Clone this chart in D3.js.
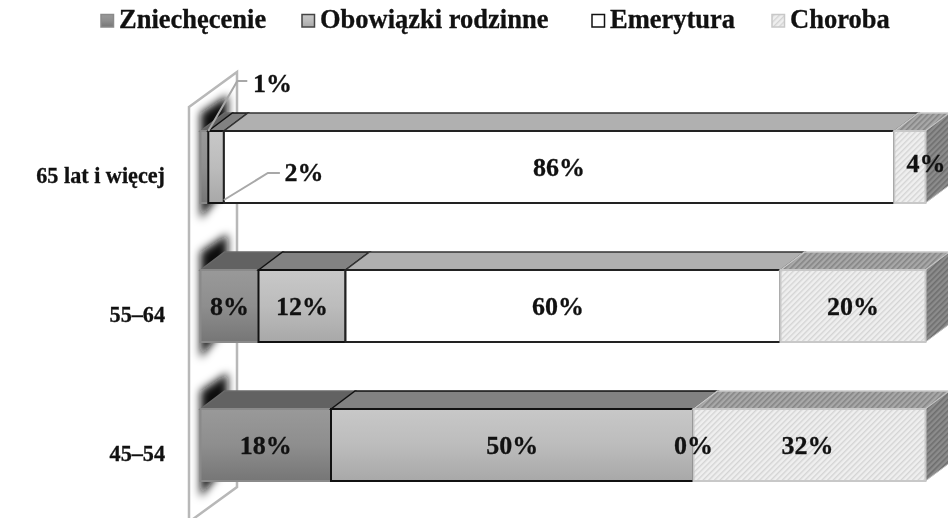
<!DOCTYPE html>
<html>
<head>
<meta charset="utf-8">
<script src="https://cdn.jsdelivr.net/npm/d3@7"></script>
<style>
    html, body { margin: 0; padding: 0; background: #fff; }
    svg { display: block; filter: blur(0.45px); }
    text { font-family: "Liberation Serif", serif; font-weight: bold; fill: #111; stroke: #111; stroke-width: 0.3px; }
</style>
</head>
<body>
<div id="chart"></div>
<script>
var categories = ["65 lat i więcej", "55–64", "45–54"];
var seriesNames = ["Zniechęcenie", "Obowiązki rodzinne", "Emerytura", "Choroba"];
var zniechecenie = [1, 8, 18];
var obowiazki = [2, 12, 50];
var emerytura = [86, 60, 0];
var choroba = [4, 20, 32];

(function () {
    var width = 948,
        height = 518,
        depthX = 24,
        depthY = 18;

    var svg = d3.select("#chart")
        .append("svg")
        .attr("width", width)
        .attr("height", height);

    var rows = categories.map(function (c, i) {
        var row = { category: c };
        row[seriesNames[0]] = zniechecenie[i];
        row[seriesNames[1]] = obowiazki[i];
        row[seriesNames[2]] = emerytura[i];
        row[seriesNames[3]] = choroba[i];
        return row;
    });

    // the first row only adds up to 93, the original bars are 100% stacked anyway
    var stacked = d3.stack()
        .keys(seriesNames)
        .offset(d3.stackOffsetExpand)(rows);

    var x = d3.scaleLinear().domain([0, 1]).range([200.5, 925.5]);
    var y = d3.scaleBand().domain(categories).range([131, 481]).paddingInner(0.482);

    var styles = [
        { front: "url(#grad-dark)", top: "#626262", side: "#626262", stroke: "#8a8a8a", topStroke: "#6a6a6a" },
        { front: "url(#grad-mid)", top: "#828282", side: "#828282", stroke: "#111", topStroke: "#111" },
        { front: "#fff", top: "#b0b0b0", side: "#b0b0b0", stroke: "#222", topStroke: "#333" },
        { front: "url(#hatch-light)", top: "url(#hatch-dark)", side: "url(#hatch-side)", stroke: "#c8c8c8", topStroke: "#c8c8c8" }
    ];

    var defs = svg.append("defs");

    function gradient(id, stops) {
        var g = defs.append("linearGradient")
            .attr("id", id)
            .attr("x1", 0).attr("y1", 0)
            .attr("x2", 0).attr("y2", 1);
        stops.forEach(function (s, i) {
            g.append("stop")
                .attr("offset", i / (stops.length - 1))
                .attr("stop-color", s);
        });
    }
    gradient("grad-dark", ["#999", "#8e8e8e", "#767676"]);
    gradient("grad-mid", ["#c8c8c8", "#bcbcbc", "#a8a8a8"]);

    function hatch(id, size, bg, line, w) {
        var p = defs.append("pattern")
            .attr("id", id)
            .attr("width", size)
            .attr("height", size)
            .attr("patternUnits", "userSpaceOnUse")
            .attr("patternTransform", "rotate(45)");
        p.append("rect").attr("width", size).attr("height", size).attr("fill", bg);
        p.append("rect").attr("width", w).attr("height", size).attr("fill", line);
    }
    hatch("hatch-light", 4, "#efefef", "#d4d4d4", 1.4);
    hatch("hatch-dark", 4, "#a8a8a8", "#858585", 1.6);
    hatch("hatch-side", 4, "#8c8c8c", "#6e6e6e", 1.6);

    defs.append("filter")
        .attr("id", "soft")
        .attr("x", "-100%").attr("y", "-40%")
        .attr("width", "300%").attr("height", "180%")
        .append("feGaussianBlur")
        .attr("stdDeviation", 4.5);

    var wallPath = "M189,107L237,72V487L189,522Z";
    defs.append("clipPath").attr("id", "wall-clip")
        .append("path").attr("d", wallPath);

    // wall behind the bars
    svg.append("path")
        .attr("d", wallPath)
        .attr("fill", "#fff")
        .attr("stroke", "#b8b8b8")
        .attr("stroke-width", 2.5);

    // blurred shadows the bars throw on the wall
    svg.append("g")
        .attr("clip-path", "url(#wall-clip)")
        .selectAll("path")
        .data(categories)
        .enter().append("path")
        .attr("d", function (d) {
            var t = y(d), b = t + y.bandwidth(), l = x(0);
            return "M" + l + "," + (t - 18) + "L" + (l + depthX + 3) + "," + (t - depthY - 18) +
                "V" + (b - depthY) + "L" + l + "," + (b + 16) + "Z";
        })
        .attr("fill", "#111")
        .attr("filter", "url(#soft)");

    function topFace(x0, x1, t) {
        return "M" + x0 + "," + t + "L" + (x0 + depthX) + "," + (t - depthY) +
            "H" + (x1 + depthX) + "L" + x1 + "," + t + "Z";
    }

    function sideFace(x1, t, b) {
        return "M" + x1 + "," + t + "L" + (x1 + depthX) + "," + (t - depthY) +
            "V" + (b - depthY) + "L" + x1 + "," + b + "Z";
    }

    var layers = svg.selectAll(".layer")
        .data(stacked)
        .enter().append("g")
        .attr("class", "layer");

    function segments(layer) {
        return layer.filter(function (d) { return d[1] > d[0]; });
    }

    stacked.forEach(function (s, i) {
        var st = styles[i];
        var g = layers.filter(function (d) { return d.key === s.key; });

        var cells = g.selectAll(".cell")
            .data(function (d) { return segments(d); })
            .enter().append("g")
            .attr("class", "cell");

        cells.append("path")
            .attr("d", function (d) {
                return topFace(x(d[0]), x(d[1]), y(d.data.category));
            })
            .attr("fill", st.top)
            .attr("stroke", st.topStroke)
            .attr("stroke-width", 1.5);

        if (i === seriesNames.length - 1) {
            cells.append("path")
                .attr("d", function (d) {
                    var t = y(d.data.category);
                    return sideFace(x(d[1]), t, t + y.bandwidth());
                })
                .attr("fill", st.side)
                .attr("stroke", "#c0c0c0")
                .attr("stroke-width", 1);
        }

        cells.append("rect")
            .attr("x", function (d) { return x(d[0]); })
            .attr("y", function (d) { return y(d.data.category); })
            .attr("width", function (d) { return x(d[1]) - x(d[0]); })
            .attr("height", y.bandwidth())
            .attr("fill", st.front)
            .attr("stroke", st.stroke)
            .attr("stroke-width", 2);
    });

    // labels; a few sit away from their segment in the original
    var labelNudge = {
        "0-0": { dx: 68, dy: -84 },
        "0-1": { dx: 88, dy: 5 },
        "0-3": { dx: 16, dy: -4 },
        "1-2": { dx: -5, dy: 0 },
        "2-3": { dx: -2, dy: 0 }
    };

    var valueArrays = [zniechecenie, obowiazki, emerytura, choroba];

    // leader lines for the two thin segments of the first row
    var line = d3.line();
    var firstRow = categories[0];
    var t0 = y(firstRow);
    var b0 = t0 + y.bandwidth();
    var leaders = [
        [[x(stacked[0][0][1]), t0], [x(stacked[0][0][1]) + 29, t0 - 50], [x(stacked[0][0][1]) + 39, t0 - 50]],
        [[x(stacked[1][0][1]), b0 - 3], [x(stacked[1][0][1]) + 44, t0 + 42], [x(stacked[1][0][1]) + 56, t0 + 42]]
    ];
    svg.selectAll(".leader")
        .data(leaders)
        .enter().append("path")
        .attr("class", "leader")
        .attr("d", line)
        .attr("fill", "none")
        .attr("stroke", "#a8a8a8")
        .attr("stroke-width", 2);

    stacked.forEach(function (s, i) {
        categories.forEach(function (c, r) {
            var cell = s[r];
            var n = labelNudge[r + "-" + i] || { dx: 0, dy: 0 };
            svg.append("text")
                .attr("class", "value")
                .attr("x", x((cell[0] + cell[1]) / 2) + n.dx)
                .attr("y", y(c) + y.bandwidth() / 2 + 9 + n.dy)
                .attr("text-anchor", "middle")
                .style("font-size", "26px")
                .text(valueArrays[i][r] + "%");
        });
    });

    // category axis
    var axis = svg.append("g")
        .attr("transform", "translate(165,9)")
        .call(d3.axisLeft(y).tickSize(0).tickPadding(0));
    axis.select(".domain").remove();
    axis.selectAll("text")
        .style("font-size", "22.2px")
        .attr("dy", ".32em");

    // legend
    var legendSquares = [100, 301, 591, 771];
    var legendSwatch = [
        { fill: "url(#grad-dark)", stroke: "#8a8a8a" },
        { fill: "url(#grad-mid)", stroke: "#444" },
        { fill: "#fff", stroke: "#111" },
        { fill: "url(#hatch-light)", stroke: "#c8c8c8" }
    ];
    var legend = svg.selectAll(".legend")
        .data(seriesNames)
        .enter().append("g")
        .attr("class", "legend")
        .attr("transform", function (d, i) { return "translate(" + legendSquares[i] + ",0)"; });

    legend.append("rect")
        .attr("x", 1).attr("y", 14.5)
        .attr("width", 12.5).attr("height", 12.5)
        .attr("fill", function (d, i) { return legendSwatch[i].fill; })
        .attr("stroke", function (d, i) { return legendSwatch[i].stroke; })
        .attr("stroke-width", 1.5);

    legend.append("text")
        .attr("x", 19)
        .attr("y", 28)
        .style("font-size", "26.5px")
        .text(function (d) { return d; });
})();
</script>
</body>
</html>
